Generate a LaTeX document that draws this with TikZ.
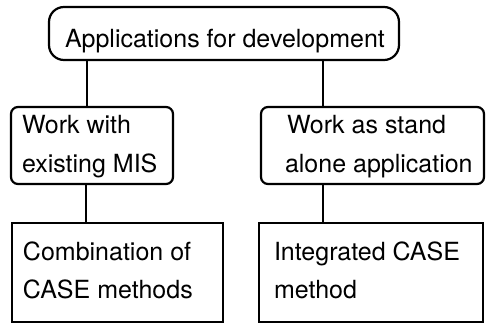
\documentclass[tikz,border=0pt]{standalone}
\usepackage{fontspec}
\setmainfont{TeX Gyre Heros}
\begin{document}
\begin{tikzpicture}[x=1pt,y=-1pt,
  box/.style={draw=black,line width=2.2pt,inner sep=0pt,outer sep=0pt,fill=none},
  roundbox/.style={box,rounded corners=7pt},
  topbox/.style={box,rounded corners=15pt},
  label/.style={anchor=base west,inner sep=0pt,outer sep=0pt,font=\fontsize{25}{30}\selectfont},
  link/.style={line width=2.2pt}]
\useasboundingbox (0,0) rectangle (488,324);

% boxes
\node[topbox,minimum width=350pt,minimum height=53pt] (top) at (224,33.5) {};
\node[roundbox,minimum width=162pt,minimum height=77pt] (ml) at (92,145.5) {};
\node[roundbox,minimum width=223pt,minimum height=77pt] (mr) at (372.5,145.5) {};
\node[box,minimum width=211pt,minimum height=99pt] (bl) at (117.5,272.5) {};
\node[box,minimum width=224pt,minimum height=99pt] (br) at (371,272.5) {};

% texts
\node[label] (t0) at (65,47) {Applications for development};
\node[label] (t1) at (22,133) {Work with};
\node[label] (t2) at (22,172) {existing MIS};
\node[label] (t3) at (287,133) {Work as stand};
\node[label] (t4) at (285,172) {alone application};
\node[label] (t5) at (23,260) {Combination of};
\node[label] (t6) at (23,298) {CASE methods};
\node[label] (t7) at (274,260) {Integrated CASE};
\node[label] (t8) at (274,298) {method};

% connectors
\draw[link] ([xshift=38pt]top.south west) -- ([xshift=38pt]top.south west |- ml.north);
\draw[link] ([xshift=274pt]top.south west) -- ([xshift=274pt]top.south west |- mr.north);
\draw[link] ([xshift=75pt]ml.south west) -- ([xshift=75pt]ml.south west |- bl.north);
\draw[link] ([xshift=62pt]mr.south west) -- ([xshift=62pt]mr.south west |- br.north);
\end{tikzpicture}
\end{document}
